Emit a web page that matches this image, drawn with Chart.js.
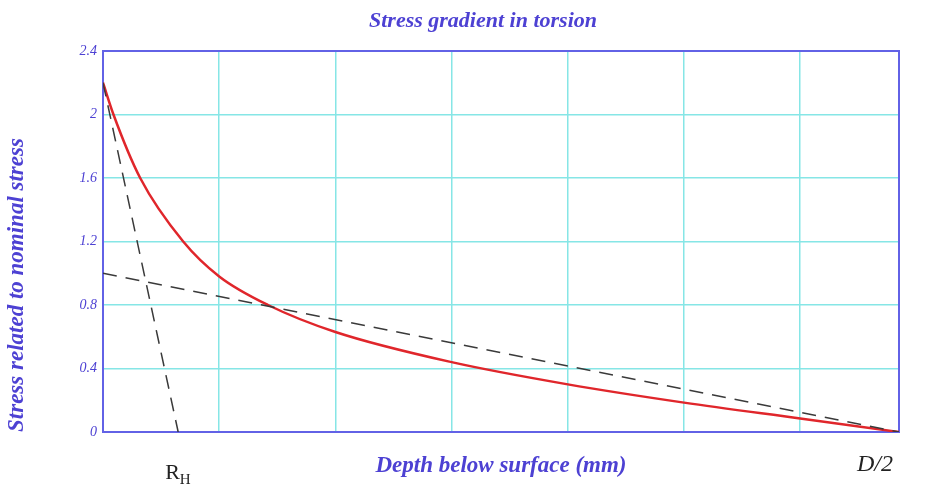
<!DOCTYPE html>
<html>
<head>
<meta charset="utf-8">
<script src="https://cdn.jsdelivr.net/npm/chart.js@4.4.0/dist/chart.umd.min.js"></script>
<style>
  html, body { margin: 0; padding: 0; background: #ffffff; }
  #wrap { width: 930px; height: 492px; }
</style>
</head>
<body>
<div id="wrap"><canvas id="myChart" width="930" height="492"></canvas></div>
<script>
// depth below surface (grid units, D/2 at the right edge) and stress / nominal stress
const depth = [0, 0.09, 0.32, 0.69, 1.0, 1.42, 2.0, 3.0, 4.0, 5.0, 6.0, 6.85];
const stress = [2.2, 2.0, 1.6, 1.2, 0.98, 0.8, 0.63, 0.44, 0.30, 0.185, 0.085, 0];

// tangent at the surface, hits zero at R_H
const tangentX = [0, 0.647];
const tangentY = [2.2, 0];

// nominal (linear) stress, 1 at surface, 0 at D/2
const nominalX = [0, 6.85];
const nominalY = [1.0, 0];

const yTicks = [0, 0.4, 0.8, 1.2, 1.6, 2, 2.4];
const xMax = 6.85;
const rhDepth = 0.647;
const chartTitle = 'Stress gradient in torsion';

const titleBlue = '#4d41d3';
const gridCyan = '#86e6e6';
const frameBlue = '#6262e6';
const serif = '"Liberation Serif", "DejaVu Serif", serif';

function pts(xs, ys) {
    const out = [];
    for (let i = 0; i < xs.length; i++) out.push({ x: xs[i], y: ys[i] });
    return out;
}

// blue frame round the plot, the title, and the R_H and D/2 marks under the axis
const frame = {
    id: 'frame',
    beforeDatasetsDraw(chart) {
        const a = chart.chartArea;
        const ctx = chart.ctx;
        ctx.save();
        ctx.strokeStyle = frameBlue;
        ctx.lineWidth = 2;
        ctx.strokeRect(a.left, a.top, a.right - a.left, a.bottom - a.top);
        ctx.restore();
    },
    afterDraw(chart) {
        const ctx = chart.ctx;
        const xs = chart.scales.x;
        ctx.save();
        // title
        ctx.fillStyle = titleBlue;
        ctx.font = 'italic bold 22px ' + serif;
        ctx.textAlign = 'center';
        ctx.textBaseline = 'middle';
        ctx.fillText(chartTitle, 483, 21);
        // R_H
        ctx.fillStyle = '#222222';
        ctx.textBaseline = 'alphabetic';
        let px = xs.getPixelForValue(rhDepth) - 13;
        ctx.font = '22px ' + serif;
        ctx.textAlign = 'left';
        ctx.fillText('R', px, 479);
        let w = ctx.measureText('R').width;
        ctx.font = '15px ' + serif;
        ctx.fillText('H', px + w, 484);
        // D/2
        ctx.font = 'italic 24px ' + serif;
        ctx.textAlign = 'right';
        ctx.fillText('D/2', xs.getPixelForValue(xMax) - 6, 471);
        ctx.restore();
    }
};

const ctx = document.getElementById('myChart');
const myline = new Chart(ctx, {
    type: 'line',
    data: {
        datasets: [{
            label: 'nominal',
            data: pts(nominalX, nominalY),
            borderColor: '#3a3a3a',
            borderWidth: 1.5,
            borderDash: [14, 9],
            pointRadius: 0,
            fill: false
        }, {
            label: 'tangent',
            data: pts(tangentX, tangentY),
            borderColor: '#3a3a3a',
            borderWidth: 1.5,
            borderDash: [14, 9],
            pointRadius: 0,
            fill: false
        }, {
            label: 'stress',
            data: pts(depth, stress),
            borderColor: '#e0262b',
            borderWidth: 2.5,
            pointRadius: 0,
            cubicInterpolationMode: 'monotone',
            fill: false
        }]
    },
    options: {
        responsive: false,
        animation: false,
        layout: { padding: { top: 51, right: 31, bottom: 0, left: 0 } },
        plugins: {
            legend: { display: false },
            tooltip: { enabled: false },
            title: { display: false }
        },
        scales: {
            x: {
                type: 'linear',
                min: 0,
                max: xMax,
                ticks: { display: false, stepSize: 1 },
                grid: {
                    drawTicks: false,
                    lineWidth: 1.5,
                    color: c => (c.tick && c.tick.value > 0 && Number.isInteger(c.tick.value)) ? gridCyan : 'rgba(0,0,0,0)'
                },
                border: { display: false },
                title: {
                    display: true,
                    text: 'Depth below surface (mm)',
                    color: titleBlue,
                    font: { family: serif, size: 23, style: 'italic', weight: 'bold' },
                    padding: { top: 0, bottom: 12 }
                },
                afterFit: s => { s.height = 60; }
            },
            y: {
                type: 'linear',
                min: 0,
                max: 2.4,
                afterBuildTicks: s => { s.ticks = yTicks.map(v => ({ value: v })); },
                ticks: {
                    color: titleBlue,
                    padding: 6,
                    font: { family: serif, size: 14, style: 'italic' },
                    callback: v => String(Number(v.toFixed(1)))
                },
                grid: {
                    drawTicks: false,
                    lineWidth: 1.5,
                    color: c => (c.tick && c.tick.value > 0 && c.tick.value < 2.4) ? gridCyan : 'rgba(0,0,0,0)'
                },
                border: { display: false },
                title: {
                    display: true,
                    text: 'Stress related to nominal stress',
                    align: 'start',
                    color: titleBlue,
                    font: { family: serif, size: 23, style: 'italic', weight: 'bold' },
                    padding: { top: 3, bottom: 0 }
                },
                afterFit: s => { s.width = 103; }
            }
        }
    },
    plugins: [frame]
});
</script>
</body>
</html>
